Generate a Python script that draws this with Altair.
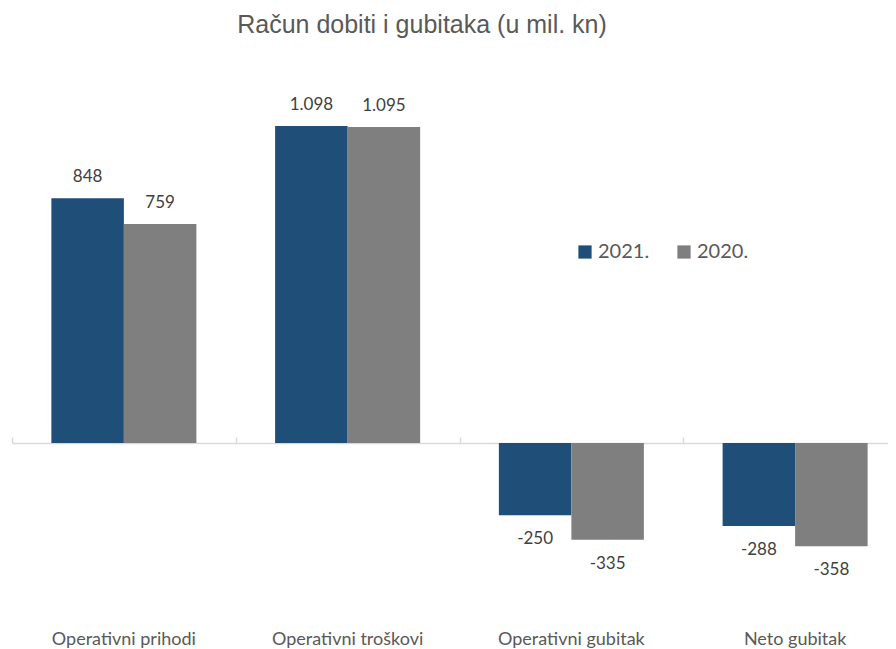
import altair as alt
import pandas as pd

categories = ["Operativni prihodi", "Operativni troškovi", "Operativni gubitak", "Neto gubitak"]
years = ["2021.", "2020."]
values_2021 = [848, 1098, -250, -288]
values_2020 = [759, 1095, -335, -358]
colors = ["#1F4E79", "#7F7F7F"]

rows = []
for cat, a, b in zip(categories, values_2021, values_2020):
    for yr, v in zip(years, (a, b)):
        rows.append({"cat": cat, "year": yr, "value": v,
                     "label": f"{v:,}".replace(",", ".")})
df = pd.DataFrame(rows)

FONT = "Lato"
TXT = "#595959"

xscale = alt.Scale(range=[0, 895], paddingInner=0, paddingOuter=0)
xoff = alt.XOffset("year:N", sort=years, scale=alt.Scale(paddingOuter=0.543, paddingInner=0))
yenc = alt.Y("value:Q", scale=alt.Scale(domain=[-544, 1292.4], nice=False, zero=False), axis=None)

bars = alt.Chart(df).mark_bar().encode(
    x=alt.X("cat:N", sort=categories, scale=xscale, title=None,
            axis=alt.Axis(orient="bottom", domain=False, ticks=False, tickSize=0,
                          labelPadding=30, labelFontSize=18, labelFont=FONT,
                          labelColor=TXT, labelAngle=0, grid=False)),
    xOffset=xoff,
    y=yenc,
    color=alt.Color("year:N", sort=years, scale=alt.Scale(domain=years, range=colors),
                    legend=alt.Legend(orient="none", legendX=563, legendY=172,
                                      direction="horizontal", title=None,
                                      symbolType="square", symbolSize=175,
                                      symbolStrokeWidth=0, labelFontSize=20,
                                      labelFont=FONT, labelColor=TXT,
                                      columnPadding=24, labelOffset=3)),
)

pos = alt.Chart(df).transform_filter("datum.value >= 0").mark_text(
    font=FONT, fontSize=17, color="#404040", baseline="alphabetic", dy=-16
).encode(
    x=alt.X("cat:N", sort=categories, scale=xscale, title=None,
            axis=alt.Axis(orient="top", offset=-373, labels=False, tickBand="extent",
                          domainColor="#D9D9D9", tickColor="#D9D9D9", tickSize=6,
                          domainWidth=1.5, tickWidth=1.5, grid=False)),
    xOffset=xoff,
    y=yenc,
    text="label:N",
)

neg = alt.Chart(df).transform_filter("datum.value < 0").mark_text(
    font=FONT, fontSize=17, color="#404040", baseline="middle", dy=24
).encode(
    x=alt.X("cat:N", sort=categories, scale=xscale, title=None, axis=None),
    xOffset=xoff,
    y=yenc,
    text="label:N",
)

chart = alt.layer(bars, pos, neg).resolve_axis(x="independent").properties(
    width=876, height=530,
    autosize="none",
    background="white",
    padding={"left": 4, "top": 62, "right": 0, "bottom": 49},
    title=alt.TitleParams("Račun dobiti i gubitaka (u mil. kn)", fontSize=25,
                          font="Liberation Sans, Arial",
                          color=TXT, fontWeight="normal", anchor="middle",
                          dx=-28, offset=32),
).configure_view(strokeWidth=0, stroke="transparent")

chart.save("out.html", embed_options={"renderer": "svg", "actions": False})
